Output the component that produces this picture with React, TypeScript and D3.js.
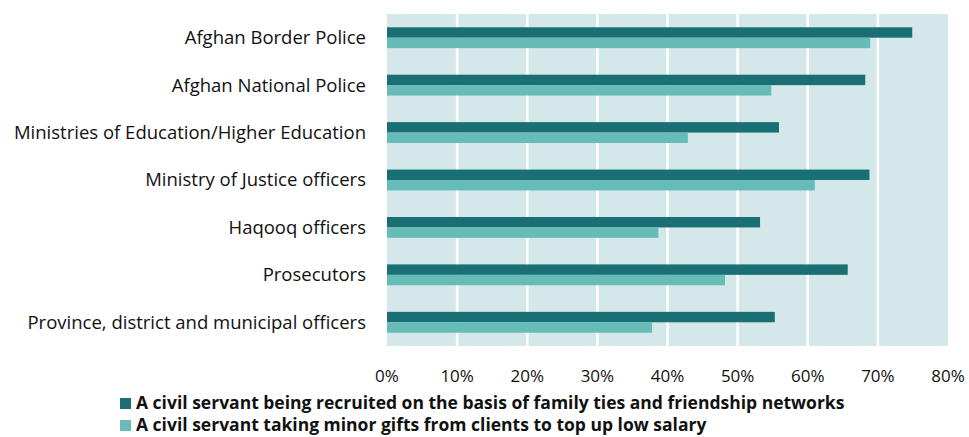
import React, { useEffect, useRef } from 'react';
import * as d3 from 'd3';

const categories = [
  'Afghan Border Police',
  'Afghan National Police',
  'Ministries of Education/Higher Education',
  'Ministry of Justice officers',
  'Haqooq officers',
  'Prosecutors',
  'Province, district and municipal officers',
];
const familyTies = [74.9, 68.2, 55.9, 68.8, 53.2, 65.7, 55.3];
const minorGifts = [68.9, 54.8, 42.9, 61.0, 38.7, 48.2, 37.8];
const seriesNames = [
  'A civil servant being recruited on the basis of family ties and friendship networks',
  'A civil servant taking minor gifts from clients to top up low salary',
];
const seriesColors = ['#196f73', '#67bcb8'];
const xTicks = [0, 10, 20, 30, 40, 50, 60, 70, 80];

const FONT = '"Open Sans", Lato, sans-serif';

const App: React.FC = () => {
  const ref = useRef<SVGSVGElement>(null);

  useEffect(() => {
    if (!ref.current) return;
    const svg = d3.select(ref.current);
    svg.selectAll('*').remove();

    const margin = { top: 14, left: 387, right: 21, bottom: 91 };
    const width = 969;
    const height = 437;
    const innerW = width - margin.left - margin.right;
    const innerH = height - margin.top - margin.bottom;

    const x = d3.scaleLinear().domain([0, 80]).range([0, innerW]);
    const y = d3.scaleBand().domain(categories).range([0, innerH]).paddingInner(0.56).paddingOuter(0.28);
    const sub = d3.scaleBand().domain(['0', '1']).range([0, y.bandwidth()]);

    const g = svg.append('g').attr('transform', `translate(${margin.left},${margin.top})`);

    g.append('rect')
      .attr('width', innerW)
      .attr('height', innerH)
      .attr('fill', '#d4e8e9');

    // vertical gridlines
    g.selectAll('line.grid')
      .data(xTicks.filter(t => t > 0 && t < 80))
      .join('line')
      .attr('class', 'grid')
      .attr('x1', d => x(d))
      .attr('x2', d => x(d))
      .attr('y1', 0)
      .attr('y2', innerH)
      .attr('stroke', '#ffffff')
      .attr('stroke-width', 2.5);

    const series = [familyTies, minorGifts];
    series.forEach((vals, si) => {
      g.selectAll(`rect.s${si}`)
        .data(vals)
        .join('rect')
        .attr('class', `s${si}`)
        .attr('x', 0)
        .attr('y', (_, i) => (y(categories[i]) ?? 0) + (sub(String(si)) ?? 0))
        .attr('width', d => x(d))
        .attr('height', sub.bandwidth())
        .attr('fill', seriesColors[si]);
    });

    // category labels
    g.selectAll('text.cat')
      .data(categories)
      .join('text')
      .attr('class', 'cat')
      .attr('x', -21)
      .attr('y', d => (y(d) ?? 0) + y.bandwidth() / 2)
      .attr('dy', '0.35em')
      .attr('text-anchor', 'end')
      .attr('font-family', FONT)
      .attr('font-size', 18.5)
      .attr('fill', '#111')
      .text(d => d);

    // x tick labels
    g.selectAll('text.tick')
      .data(xTicks)
      .join('text')
      .attr('class', 'tick')
      .attr('x', d => x(d))
      .attr('y', innerH + 30)
      .attr('dy', '0.35em')
      .attr('text-anchor', 'middle')
      .attr('font-family', FONT)
      .attr('font-size', 17)
      .attr('fill', '#111')
      .text(d => `${d}%`);

    // legend
    const lg = svg.append('g').attr('transform', 'translate(120,403)');
    seriesNames.forEach((name, i) => {
      const row = lg.append('g').attr('transform', `translate(0,${i * 22})`);
      row.append('rect')
        .attr('x', 0)
        .attr('y', -5)
        .attr('width', 11)
        .attr('height', 11)
        .attr('fill', seriesColors[i]);
      row.append('text')
        .attr('x', 16)
        .attr('y', 0)
        .attr('dy', '0.35em')
        .attr('font-family', FONT)
        .attr('font-size', 17.5)
        .attr('font-weight', 'bold')
        .attr('fill', '#111')
        .text(name);
    });
  }, []);

  return (
    <svg
      ref={ref}
      width={969}
      height={437}
      style={{ position: 'absolute', left: 0, top: 0, background: '#fff' }}
    />
  );
};

export default App;
